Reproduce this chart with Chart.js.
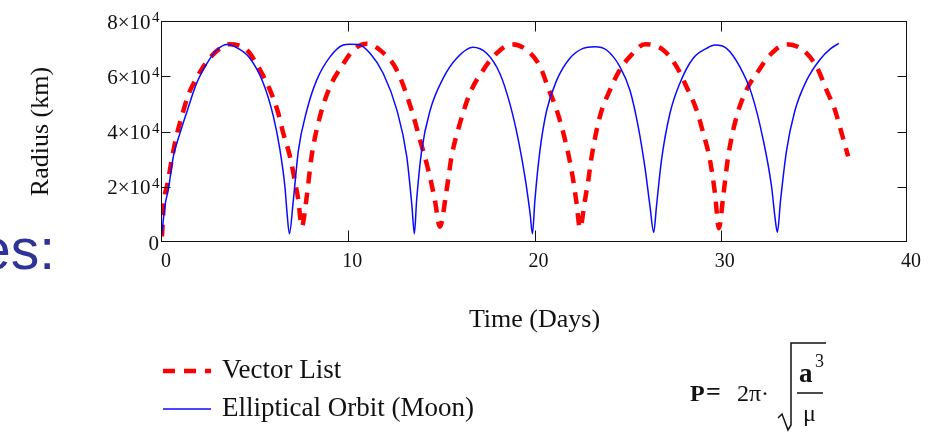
<!DOCTYPE html>
<html>
<head>
<meta charset="utf-8">
<script src="https://cdn.jsdelivr.net/npm/chart.js@4.4.1/dist/chart.umd.min.js"></script>
<style>
  body { margin: 0; background: #fff; }
  #wrap { position: relative; width: 936px; height: 433px; overflow: hidden; }
  .slide { position: absolute; left: -21px; top: 221px; font: 57px "Liberation Sans", Arial, sans-serif; line-height: 1; color: #2f3296; white-space: nowrap; }
  .f { position: absolute; font-family: "Liberation Serif", serif; color: #111; line-height: 1; white-space: nowrap; }
  svg { position: absolute; left: 0; top: 0; }
</style>
</head>
<body>
<div id="wrap">
  <canvas id="orbitChart" width="936" height="433"></canvas>
  <div class="slide">es:</div>
  <div class="f" style="left:690px; top:381px; font-size:24px; font-weight:bold;">P</div>
  <div class="f" style="left:706px; top:379px; font-size:26px; font-weight:bold;">=</div>
  <div class="f" style="left:737px; top:381px; font-size:24px;">2π·</div>
  <div class="f" style="left:799px; top:360px; font-size:27px; font-weight:bold;">a</div>
  <div class="f" style="left:815px; top:352px; font-size:18px;">3</div>
  <div class="f" style="left:803px; top:401px; font-size:24px;">μ</div>
  <svg width="936" height="433">
    <polyline points="778,418 782,414 788,430 791,425 791,343 826,343" fill="none" stroke="#111" stroke-width="1.5"/>
    <line x1="797" y1="393" x2="823" y2="393" stroke="#111" stroke-width="1.5"/>
  </svg>
</div>
<script>
// Vector List (red dashed)
const vectorDays = [0, 0.1, 0.3, 0.52, 0.73, 1.06, 1.41, 1.95, 2.49, 3.11, 3.6, 4.55, 5.26, 5.8, 6.24, 6.51, 6.87, 7.09, 7.32, 7.5,
  7.77, 8.03, 8.48, 9.02, 9.64, 10.27, 11.0, 11.7, 12.6, 13.4, 13.85, 14.3, 14.65, 14.92,
  15.28, 15.55, 16.0, 16.53, 17.25, 17.96, 18.77, 19.58, 20.3, 20.74, 21.19, 21.55, 21.81, 22.05, 22.26, 22.44,
  22.71, 22.89, 23.07, 23.51, 24.05, 24.58, 25.12, 25.93, 26.91, 27.63, 28.16, 28.7, 29.06, 29.42, 29.69, 29.9,
  30.13, 30.4, 30.85, 31.38, 32.0, 32.64, 33.53, 34.42, 35.14, 35.68, 36.13, 36.49, 36.84];
const vectorRadius = [2000, 14000, 21300, 29700, 37000, 45400, 53200, 60500, 66000, 70100, 71600, 69500, 62300, 55000, 46700, 39400, 31000, 23600, 15200, 5500,
  16400, 31000, 45400, 56200, 63500, 69500, 71800, 69500, 62300, 47800, 37000, 26000, 15200, 5500,
  18800, 31000, 43000, 53800, 62300, 68300, 71600, 69500, 63500, 55700, 47800, 39400, 32000, 23600, 14000, 5000,
  15200, 22400, 31000, 45400, 55000, 62300, 67100, 71600, 69500, 63500, 56200, 47800, 39400, 29700, 17600, 5000,
  16400, 31000, 45400, 55000, 61700, 67700, 71600, 69500, 63500, 55000, 47800, 39400, 31000];

// Elliptical Orbit (Moon) (blue solid)
const orbitDays = [0, 0.07, 0.18, 0.34, 0.61, 0.97, 1.33, 1.86, 2.4, 2.94, 3.5, 4.1, 4.72, 5.44, 5.98, 6.33, 6.6, 6.72, 6.84,
  7.05, 7.32, 7.77, 8.3, 9.02, 9.73, 10.1, 10.54, 11.17, 11.88, 12.6, 13.14, 13.42, 13.55,
  13.67, 13.94, 14.39, 15.1, 15.82, 16.68, 17.43, 18.14, 18.68, 19.13, 19.49, 19.76, 19.89,
  20.02, 20.29, 20.65, 21.19, 21.9, 22.61, 23.24, 23.87, 24.58, 25.12, 25.57, 25.93, 26.2, 26.4,
  26.55, 26.82, 27.27, 27.8, 28.52, 29.24, 29.69, 30.31, 31.02, 31.65, 32.28, 32.73, 32.91, 33.04,
  33.21, 33.53, 33.98, 34.61, 35.32, 35.9, 36.34];
const orbitRadius = [3000, 8000, 14000, 19000, 31000, 39500, 47000, 57500, 64500, 69500, 71500, 70000, 66500, 57500, 45500, 33500, 20000, 10000, 3000,
  15000, 33000, 47500, 58500, 67000, 71300, 71600, 71500, 68300, 61000, 48000, 31000, 13000, 3000,
  15000, 33000, 47500, 59300, 66500, 70500, 68300, 61000, 50000, 37000, 23500, 10500, 3000,
  15000, 33000, 47500, 58500, 66500, 70100, 70700, 69500, 63500, 55000, 41700, 27000, 13000, 3500,
  13000, 29700, 46500, 57400, 66500, 70100, 71300, 70100, 63500, 53800, 37000, 20000, 9000, 3500,
  15000, 33000, 47500, 58500, 66000, 70000, 71900];

// y tick labels: mantissa part and the power of ten drawn as superscript
const yTickLabels = ["0", "2×10", "4×10", "6×10", "8×10"];
const yTickPowers = ["", "4", "4", "4", "4"];
const seriesNames = ["Vector List", "Elliptical Orbit (Moon)"];

const toPoints = (xs, ys) => xs.map((d, i) => ({ x: d, y: ys[i] }));
const serif = "'Liberation Serif', 'Times New Roman', serif";

// box round the plot with Mathcad-style inward ticks + exponents
const framePlugin = {
  id: "frame",
  afterDatasetsDraw(chart) {
    const { ctx, chartArea: a, scales: { x, y } } = chart;
    ctx.save();
    ctx.strokeStyle = "#111";
    ctx.lineWidth = 1;
    const l = Math.round(a.left) - 0.5, r = Math.round(a.right) - 0.5;
    const t = Math.round(a.top) + 0.5, b = Math.round(a.bottom) - 0.5;
    ctx.strokeRect(l, t, r - l, b - t);
    ctx.beginPath();
    x.ticks.forEach(tk => {
      if (tk.value <= x.min || tk.value >= x.max) return;
      const px = Math.round(x.getPixelForValue(tk.value)) + 0.5;
      ctx.moveTo(px, b); ctx.lineTo(px, b - 11);
      ctx.moveTo(px, t); ctx.lineTo(px, t + 10);
    });
    y.ticks.forEach(tk => {
      if (tk.value <= y.min || tk.value >= y.max) return;
      const py = Math.round(y.getPixelForValue(tk.value)) + 0.5;
      ctx.moveTo(l, py); ctx.lineTo(l + 9, py);
      ctx.moveTo(r, py); ctx.lineTo(r - 9, py);
    });
    ctx.stroke();

    ctx.fillStyle = "#111";
    ctx.font = "15px " + serif;
    ctx.textAlign = "left";
    ctx.textBaseline = "alphabetic";
    y.ticks.forEach((tk, i) => {
      if (!yTickPowers[i]) return;
      ctx.fillText(yTickPowers[i], y.right - 10, y.getPixelForValue(tk.value) + 1);
    });
    ctx.restore();
  }
};

// legend under the plot, line samples taken from the datasets
const legendPlugin = {
  id: "mathcadLegend",
  afterDraw(chart) {
    const ctx = chart.ctx;
    const rows = [371, 409];
    ctx.save();
    chart.data.datasets.forEach((ds, i) => {
      const yy = rows[i];
      ctx.strokeStyle = ds.borderColor;
      ctx.lineWidth = ds.borderWidth;
      ctx.setLineDash(ds.borderDash || []);
      ctx.beginPath();
      ctx.moveTo(163, yy);
      ctx.lineTo(211, yy);
      ctx.stroke();
      ctx.setLineDash([]);
      ctx.fillStyle = "#111";
      ctx.font = "27px " + serif;
      ctx.textBaseline = "middle";
      ctx.fillText(ds.label, 222, yy);
    });
    ctx.restore();
  }
};

new Chart(document.getElementById("orbitChart"), {
  type: "line",
  data: {
    datasets: [
      {
        label: seriesNames[0],
        data: toPoints(vectorDays, vectorRadius),
        borderColor: "#ff0000",
        borderWidth: 4.5,
        borderDash: [12, 9],
        pointRadius: 0,
        cubicInterpolationMode: "monotone",
        order: 2
      },
      {
        label: seriesNames[1],
        data: toPoints(orbitDays, orbitRadius),
        borderColor: "#0a0aff",
        borderWidth: 1.5,
        pointRadius: 0,
        cubicInterpolationMode: "monotone",
        order: 1
      }
    ]
  },
  options: {
    responsive: false,
    animation: false,
    devicePixelRatio: 1,
    layout: { padding: { top: 21, right: 29, left: 0, bottom: 0 } },
    plugins: { legend: { display: false }, tooltip: { enabled: false } },
    scales: {
      x: {
        type: "linear",
        min: 0,
        max: 40,
        ticks: { stepSize: 10, color: "#111", font: { family: serif, size: 20 }, padding: 8, labelOffset: 4, maxRotation: 0 },
        grid: { drawOnChartArea: false, drawTicks: false },
        border: { display: false },
        title: { display: true, text: "Time (Days)", color: "#111", font: { family: serif, size: 26 }, padding: { top: 0, bottom: 97 } },
        afterFit(s) { s.height = 191; }
      },
      y: {
        min: 0,
        max: 80000,
        ticks: {
          stepSize: 20000, color: "#111", font: { family: serif, size: 21 }, padding: 3, labelOffset: 2,
          // thin spaces leave room for the exponent
          callback: (v, i) => yTickPowers[i] ? yTickLabels[i] + "\u2009\u2009" : yTickLabels[i]
        },
        grid: { drawOnChartArea: false, drawTicks: false },
        border: { display: false },
        title: { display: true, text: "Radius (km)", color: "#111", font: { family: serif, size: 26 }, padding: { top: 26, bottom: 0 } },
        afterFit(s) { s.width = 162; }
      }
    }
  },
  plugins: [framePlugin, legendPlugin]
});
</script>
</body>
</html>
